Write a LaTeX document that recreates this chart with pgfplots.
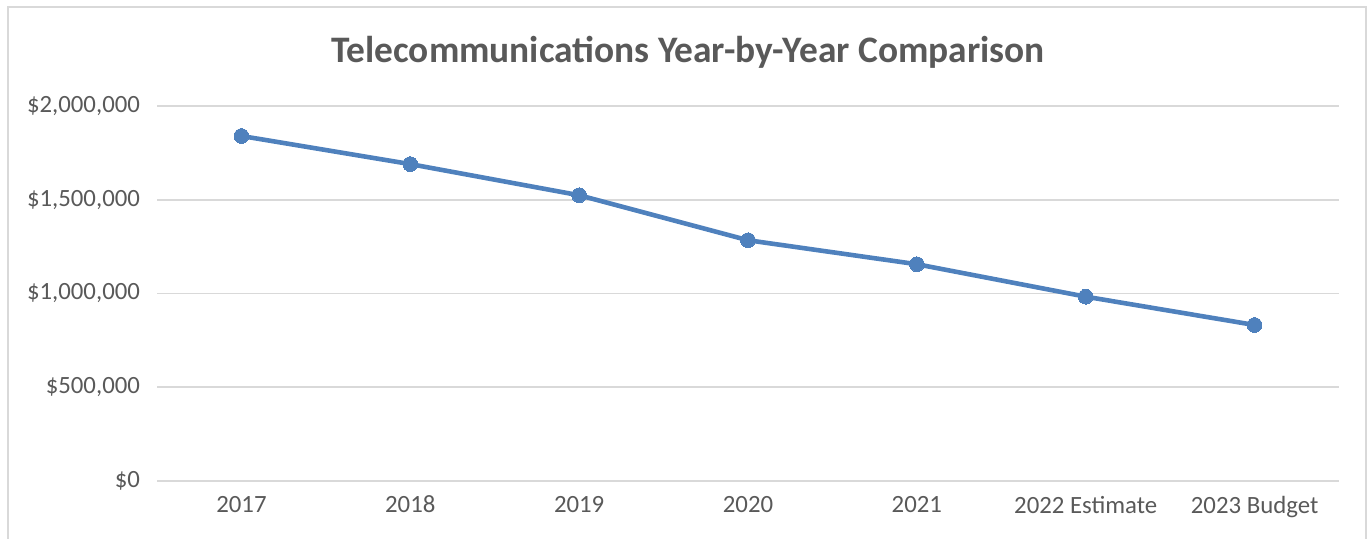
\documentclass[border=0pt]{standalone}
\usepackage{fontspec}
\setmainfont{Carlito}
\usepackage{pgfplots}
\pgfplotsset{compat=1.18}
\definecolor{txtgray}{HTML}{595959}
\definecolor{gridgray}{HTML}{D9D9D9}
\definecolor{lineblue}{HTML}{4F81BD}
\begin{document}
\begin{tikzpicture}
% page = 1371x539 px at 0.5pt per px
\useasboundingbox (0,0) rectangle (685.5pt,269.5pt);
\draw[gridgray, line width=0.8pt] (4pt,-2pt) -- (4pt,266pt) -- (683pt,266pt) -- (683pt,-2pt);
\node[font=\bfseries\fontsize{18.7}{21}\selectfont, text=txtgray] at (344pt,243.5pt)
  {Telecommunications Year-by-Year Comparison};
\begin{axis}[
    at={(78.5pt,29pt)}, anchor=south west,
    scale only axis,
    width=591pt, height=187.5pt,
    xmin=-0.5, xmax=6.5,
    ymin=0, ymax=2000000,
    xtick={0,...,6},
    xticklabels={2017,2018,2019,2020,2021,2022 Estimate,2023 Budget},
    ytick={0,500000,1000000,1500000,2000000},
    scaled y ticks=false,
    /pgf/number format/assume math mode=true,
    yticklabel={\$\pgfmathprintnumber[fixed,precision=0,1000 sep={,}]{\tick}},
    ticklabel style={font=\fontsize{12.4}{14}\selectfont, text=txtgray},
    xticklabel style={yshift=-4pt},
    yticklabel style={xshift=-5pt},
    major tick length=0pt,
    axis line style={draw=none},
    ymajorgrids=true,
    grid style={gridgray, line width=0.8pt},
    clip=false,
]
\addplot[lineblue, line width=2.3pt, mark=*, mark size=3.7pt,
  mark options={fill=lineblue, draw=lineblue, line width=0pt}] coordinates {
  (0,1840000) (1,1690000) (2,1524000) (3,1284000) (4,1156000) (5,983000) (6,832000)
};
\end{axis}
\end{tikzpicture}
\end{document}
